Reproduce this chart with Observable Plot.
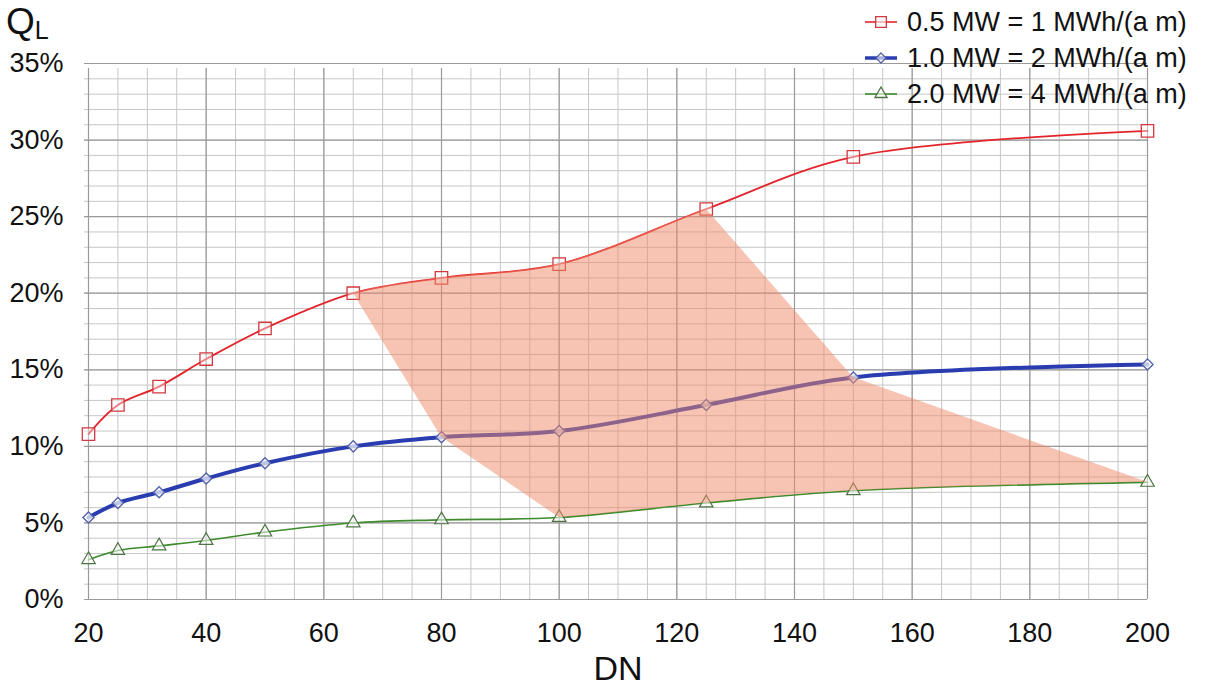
<!DOCTYPE html>
<html>
<head>
<meta charset="utf-8">
<script src="https://cdn.jsdelivr.net/npm/d3@7"></script>
<script src="https://cdn.jsdelivr.net/npm/@observablehq/plot@0.6"></script>
<style>
  html, body { margin: 0; padding: 0; background: #fff; }
  #wrap { position: relative; width: 1206px; height: 691px; font-family: "Liberation Sans", Arial, sans-serif; color: #111; }
  #ql { position: absolute; left: 6px; top: 3px; font-size: 37px; line-height: 37px; }
  #ql sub { font-size: 25px; vertical-align: -5px; }
  .lg { position: absolute; left: 863px; height: 30px; display: flex; align-items: center; font-size: 27px; white-space: nowrap; }
  .lg svg { margin-right: 8px; }
</style>
</head>
<body>
<div id="wrap">
  <div id="ql">Q<sub>L</sub></div>
  <div id="chart"></div>
</div>
<script>
// ---- data ----
const dn = [20, 25, 32, 40, 50, 65, 80, 100, 125, 150, 200];
const red   = [10.8, 12.7, 13.9, 15.7, 17.7, 20.0, 21.0, 21.9, 25.5, 28.9, 30.6];
const blue  = [5.35, 6.3, 7.0, 7.9, 8.9, 10.0, 10.6, 11.0, 12.7, 14.5, 15.35];
const green = [2.6, 3.2, 3.5, 3.85, 4.4, 5.0, 5.2, 5.35, 6.3, 7.1, 7.65];

const seriesNames = ["0.5 MW = 1 MWh/(a m)", "1.0 MW = 2 MWh/(a m)", "2.0 MW = 4 MWh/(a m)"];
const xTicks = [20, 40, 60, 80, 100, 120, 140, 160, 180, 200];
const yTicks = [0, 5, 10, 15, 20, 25, 30, 35];
const xMinor = d3.range(20, 201, 5);
const yMinor = d3.range(0, 36, 1);
const xMajor = xTicks;
const yMajor = yTicks;

// shaded region corners (DN values at which the boundary switches between curves)
const shadeStartDN = 65;       // on red
const shadeRedEndDN = 125;     // on red
const shadeBlueDN = 150;       // on blue
const shadeEndDN = 200;        // on green
const shadeGreenStartDN = 100; // on green
const shadeBlueLeftDN = 80;    // on blue

const colors = { red: "#e3242b", blue: "#2a3db0", green: "#3d8b2c" };

const rows = dn.map((x, i) => ({ dn: x, red: red[i], blue: blue[i], green: green[i] }));
const at = (arr, x) => arr[dn.indexOf(x)];

const chart = Plot.plot({
  width: 1206,
  height: 691,
  marginTop: 63,
  marginBottom: 92,
  marginLeft: 88,
  marginRight: 59,
  style: { fontFamily: "Liberation Sans, Arial, sans-serif", color: "#111", background: "transparent" },
  x: { domain: [20, 200], label: null },
  y: { domain: [0, 35], label: null },
  marks: [
    Plot.ruleX(xMinor, { y1: 0, y2: 35, stroke: "#c6c6c6", strokeWidth: 1, insetBottom: -5 }),
    Plot.ruleY(yMinor, { x1: 20, x2: 200, stroke: "#c6c6c6", strokeWidth: 1, insetLeft: -4 }),
    Plot.ruleX(xMajor, { y1: 0, y2: 35, stroke: "#9a9a9a", strokeWidth: 1.2, insetBottom: -5 }),
    Plot.ruleY(yMajor, { x1: 20, x2: 200, stroke: "#9a9a9a", strokeWidth: 1.2, insetLeft: -4 }),
    Plot.line(rows, { x: "dn", y: "green", curve: "catmull-rom", stroke: colors.green, strokeWidth: 1.6 }),
    Plot.line(rows, { x: "dn", y: "blue", curve: "catmull-rom", stroke: colors.blue, strokeWidth: 4 }),
    Plot.line(rows, { x: "dn", y: "red", curve: "catmull-rom", stroke: colors.red, strokeWidth: 1.8 }),
    Plot.dot(rows, { x: "dn", y: "green", symbol: "triangle", r: 5, stroke: "#4d7344", strokeWidth: 1.2, fill: "#fff", fillOpacity: 0.55 }),
    Plot.dot(rows, { x: "dn", y: "blue", symbol: "diamond2", r: 5, stroke: "#5563a8", strokeWidth: 1.4, fill: "#fff", fillOpacity: 0.7 }),
    Plot.dot(rows, { x: "dn", y: "red", symbol: "square", r: 7, stroke: "#d2393e", strokeWidth: 1.3, fill: "#fff", fillOpacity: 0.4 }),
    Plot.areaY(rows, { x: "dn", y1: "green", y2: "red", curve: "catmull-rom", fill: "#f08a68", fillOpacity: 0.5 }),
    Plot.axisX({ ticks: xTicks, tickSize: 0, tickPadding: 23, fontSize: 27, label: null }),
    Plot.axisY({ ticks: yTicks, tickSize: 0, tickPadding: 25, fontSize: 27, tickFormat: d => d + "%", label: null }),
    Plot.text(["DN"], { frameAnchor: "bottom", dy: 80, fontSize: 34, text: d => d, fill: "#111" })
  ]
});

// clip the shaded area to the region bounded by the curves and the connecting segments
const sx = chart.scale("x"), sy = chart.scale("y");
const poly = [
  [shadeStartDN, 35], [shadeRedEndDN, 35],
  [shadeRedEndDN, at(red, shadeRedEndDN)],
  [shadeBlueDN, at(blue, shadeBlueDN)],
  [shadeEndDN, at(green, shadeEndDN)],
  [shadeEndDN, 0], [shadeGreenStartDN, 0],
  [shadeGreenStartDN, at(green, shadeGreenStartDN)],
  [shadeBlueLeftDN, at(blue, shadeBlueLeftDN)],
  [shadeStartDN, at(red, shadeStartDN)]
];
const svg = d3.select(chart);
svg.append("defs").append("clipPath").attr("id", "shadeClip")
  .append("polygon").attr("points", poly.map(([x, y]) => sx.apply(x) + "," + sy.apply(y)).join(" "));
svg.select('g[aria-label="area"]').attr("clip-path", "url(#shadeClip)");

document.getElementById("chart").appendChild(chart);

// legend
const legendDefs = [
  { name: seriesNames[0], color: colors.red, sym: d3.symbolSquare, r: 6, stroke: "#d2393e", w: 1.6 },
  { name: seriesNames[1], color: colors.blue, sym: d3.symbolDiamond2, r: 4.5, stroke: "#5563a8", w: 3.5 },
  { name: seriesNames[2], color: colors.green, sym: d3.symbolTriangle, r: 4.5, stroke: "#4d7344", w: 1.6 }
];
const rowCenters = [22, 58, 94];
legendDefs.forEach((d, i) => {
  const div = document.createElement("div");
  div.className = "lg";
  div.style.top = (rowCenters[i] - 15) + "px";
  const s = d3.create("svg").attr("width", 36).attr("height", 24);
  s.append("line").attr("x1", 2).attr("x2", 34).attr("y1", 12).attr("y2", 12).attr("stroke", d.color).attr("stroke-width", d.w);
  s.append("path").attr("transform", "translate(18,12)").attr("d", d3.symbol(d.sym, Math.PI * d.r * d.r)())
    .attr("fill", "#fff").attr("fill-opacity", 0.6).attr("stroke", d.stroke).attr("stroke-width", 1.3);
  div.appendChild(s.node());
  const span = document.createElement("span");
  span.textContent = d.name;
  div.appendChild(span);
  document.getElementById("wrap").appendChild(div);
});
</script>
</body>
</html>
